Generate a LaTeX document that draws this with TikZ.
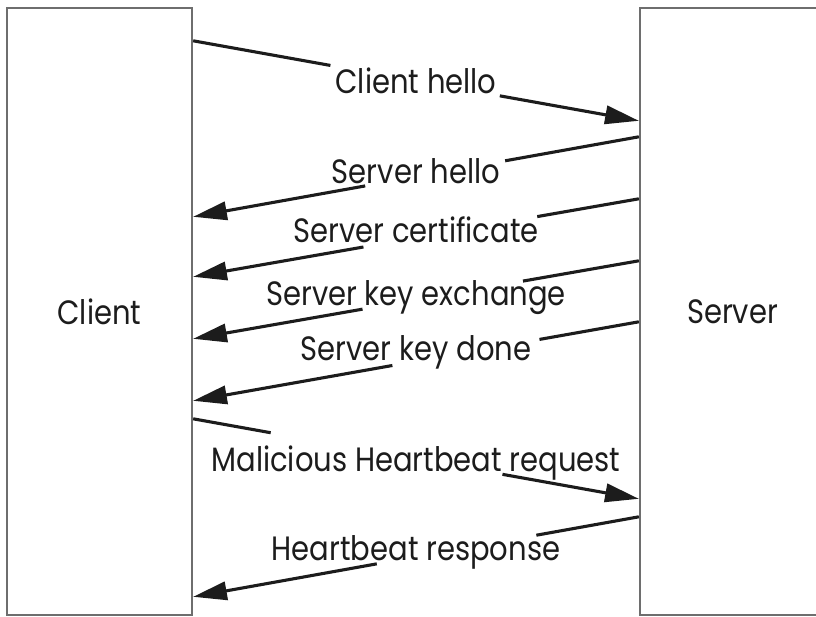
\documentclass[tikz,border=0pt]{standalone}
\usepackage{fontspec}
\setmainfont{Poppins}[FakeStretch=0.86]
\usetikzlibrary{arrows.meta,calc}
\definecolor{ink}{HTML}{1C1C1C}
\definecolor{rule}{HTML}{6E6E6E}
\begin{document}
\begin{tikzpicture}[x=0.0125cm,y=-0.0125cm,
  party/.style={draw=rule,line width=0.8pt,minimum width=2.3125cm,minimum height=7.5875cm,
                inner sep=0pt,font=\fontsize{12}{14}\selectfont,text=ink},
  lbl/.style={anchor=base,inner sep=0pt,font=\fontsize{12}{14}\selectfont,text=ink},
  wire/.style={line width=1.1pt,ink},
  arr/.style={wire,-{Triangle[length=12pt,width=6.5pt]}}]
  \useasboundingbox (0,0) rectangle (816,616);
  \clip (0,0) rectangle (816,616);
  \node[party] (client) at (99.5,311.5) {Client};
  \node[party] (server) at (732.5,311.5) {Server};
  % message ends on the two boxes
  \coordinate (c1) at ($(client.north east)+(0,34)$);  \coordinate (s1) at ($(server.north west)+(0,114)$);
  \coordinate (s2) at ($(server.north west)+(0,130)$); \coordinate (c2) at ($(client.north east)+(0,210)$);
  \coordinate (s3) at ($(server.north west)+(0,192)$); \coordinate (c3) at ($(client.north east)+(0,270)$);
  \coordinate (s4) at ($(server.north west)+(0,254)$); \coordinate (c4) at ($(client.north east)+(0,332)$);
  \coordinate (s5) at ($(server.north west)+(0,315)$); \coordinate (c5) at ($(client.north east)+(0,394)$);
  \coordinate (c6) at ($(client.north east)+(0,412)$); \coordinate (s6) at ($(server.north west)+(0,492)$);
  \coordinate (s7) at ($(server.north west)+(0,510)$); \coordinate (c7) at ($(client.north east)+(0,590)$);
  % labels
  \node[lbl] (hello) at (416,93) {Client hello};
  \node[lbl] (shello) at (416,183) {Server hello};
  \node[lbl] (cert) at (416,242) {Server certificate};
  \node[lbl] (kex) at (416,305) {Server key exchange};
  \node[lbl] (kdone) at (416,360) {Server key done};
  \node[lbl] (hbreq) at (416,471) {Malicious Heartbeat request};
  \node[lbl] (hbresp) at (416,560) {Heartbeat response};
  % arrows, broken where the label sits
  \draw[wire] (c1) -- ($(c1)!.308!(s1)$); \draw[arr] ($(c1)!.688!(s1)$) -- (s1);
  \draw[wire] (s2) -- ($(s2)!.30!(c2)$);  \draw[arr] ($(s2)!.614!(c2)$) -- (c2);
  \draw[wire] (s3) -- ($(s3)!.228!(c3)$); \draw[arr] ($(s3)!.618!(c3)$) -- (c3);
  \draw[wire] (s4) -- ($(s4)!.26!(c4)$);  \draw[arr] ($(s4)!.62!(c4)$) -- (c4);
  \draw[wire] (s5) -- ($(s5)!.223!(c5)$); \draw[arr] ($(s5)!.553!(c5)$) -- (c5);
  \draw[wire] (c6) -- ($(c6)!.174!(s6)$); \draw[arr] ($(c6)!.694!(s6)$) -- (s6);
  \draw[wire] (s7) -- ($(s7)!.23!(c7)$);  \draw[arr] ($(s7)!.588!(c7)$) -- (c7);
\end{tikzpicture}
\end{document}
